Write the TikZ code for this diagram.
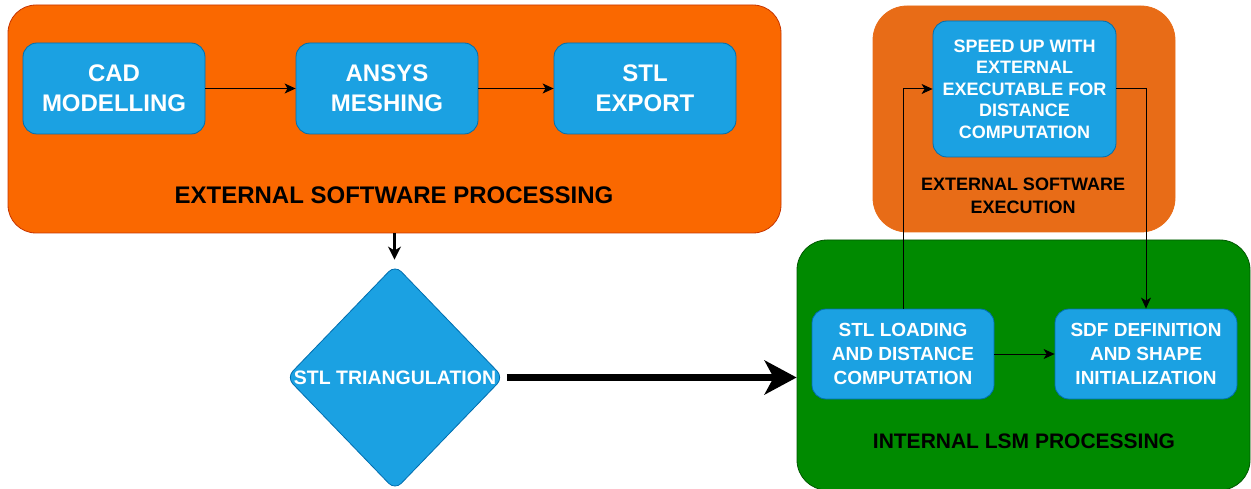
\documentclass[tikz,border=0pt]{standalone}
\usepackage{fontspec}
\setmainfont{Liberation Sans}
\usetikzlibrary{arrows.meta,shapes.geometric}
\definecolor{orgA}{HTML}{FA6800}
\definecolor{orgAd}{HTML}{C73500}
\definecolor{orgB}{HTML}{E86C17}
\definecolor{bluebox}{HTML}{1BA1E2}
\definecolor{blueedge}{HTML}{006EAF}
\definecolor{grn}{HTML}{008A00}
\definecolor{grnd}{HTML}{005700}
\tikzset{
  group/.style={rectangle, draw, line width=0.8pt, inner sep=0pt},
  procbox/.style={rectangle, rounded corners=14pt, fill=bluebox, draw=blueedge,
    line width=0.8pt, text=white, align=center, inner sep=0pt,
    minimum width=182pt, minimum height=91pt},
  grouplabel/.style={align=center, font=\bfseries},
  arr/.style={line width=1pt, -{Stealth[length=11pt,width=10pt,inset=3pt]}},
}
\begin{document}
\begin{tikzpicture}[x=1pt,y=-1pt]
\useasboundingbox (0,0) rectangle (1251,489);

% containers
\node[group, fill=orgA, draw=orgAd, rounded corners=28pt,
  minimum width=773pt, minimum height=228pt] (ext) at (394.5,119) {};
\node[group, fill=orgB, draw=orgB, rounded corners=34pt,
  minimum width=302pt, minimum height=226pt] (exe) at (1024,119) {};
\node[group, fill=grn, draw=grnd, rounded corners=30pt,
  minimum width=453pt, minimum height=250pt] (lsm) at (1023.5,365) {};

% container titles
\node[grouplabel, font=\bfseries\fontsize{24}{30}\selectfont] (extlbl) at (394,195) {EXTERNAL SOFTWARE PROCESSING};
\node[grouplabel, font=\bfseries\fontsize{18}{23}\selectfont] (exelbl) at (1023,195.5) {EXTERNAL SOFTWARE\\EXECUTION};
\node[grouplabel, font=\bfseries\fontsize{21}{26}\selectfont] (lsmlbl) at (1024,441) {INTERNAL LSM PROCESSING};

% process steps
\node[procbox, font=\bfseries\fontsize{24}{30}\selectfont] (cad) at (114,88.5) {CAD\\MODELLING};
\node[procbox, font=\bfseries\fontsize{24}{30}\selectfont] (ansys) at (387,88.5) {ANSYS\\MESHING};
\node[procbox, font=\bfseries\fontsize{24}{30}\selectfont] (stlexp) at (645,88.5) {STL\\EXPORT};
\node[procbox, font=\bfseries\fontsize{18}{21.5}\selectfont, minimum width=183pt, minimum height=136pt]
  (speed) at (1024.5,89) {SPEED UP WITH\\EXTERNAL\\EXECUTABLE FOR\\DISTANCE\\COMPUTATION};
\node[procbox, font=\bfseries\fontsize{19}{24}\selectfont, minimum height=90pt] (stlload) at (903,354) {STL LOADING\\AND DISTANCE\\COMPUTATION};
\node[procbox, font=\bfseries\fontsize{19}{24}\selectfont, minimum height=90pt] (sdf) at (1146,354) {SDF DEFINITION\\AND SHAPE\\INITIALIZATION};

% triangulation decision
\node[diamond, fill=bluebox, draw=blueedge, line width=0.8pt, rounded corners=9pt,
  inner sep=0pt, minimum width=217pt, minimum height=225pt] (tri) at (395,377.5) {};
\node[text=white, font=\bfseries\fontsize{19.5}{23}\selectfont] (trilbl) at (tri.center) {STL TRIANGULATION};

% connectors
\draw[arr] (cad) -- (ansys);
\draw[arr] (ansys) -- (stlexp);
\draw[arr] (stlload) -- (sdf);
\draw[arr] (stlload.north) |- (speed.west);
\draw[arr] (speed.east) -| (sdf.north);
\draw[line width=3pt, -{Stealth[length=13pt,width=13pt,inset=4pt]}, shorten >=5pt]
  (ext.south) -- (ext.south |- tri.north);
\draw[line width=6.5pt, -{Stealth[length=32pt,width=34pt,inset=9pt]}, shorten <=3pt]
  (tri.east) -- (tri.east -| lsm.west);
\end{tikzpicture}
\end{document}
